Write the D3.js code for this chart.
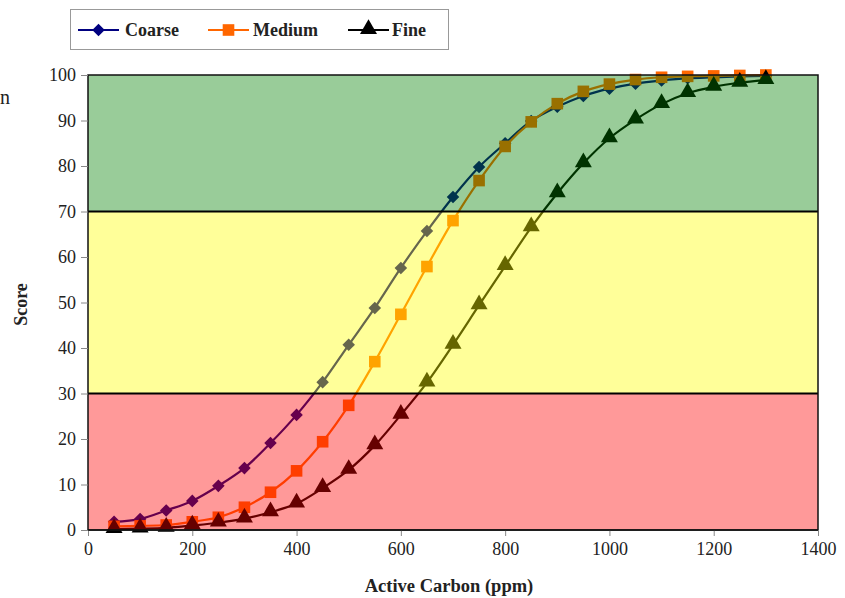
<!DOCTYPE html>
<html><head><meta charset="utf-8">
<script src="https://cdn.jsdelivr.net/npm/d3@7"></script>
<style>body{margin:0;background:#fff}svg{display:block}</style>
</head><body>
<svg id="c" width="845" height="598"></svg>
<script>
const xs = [50,100,150,200,250,300,350,400,450,500,550,600,650,700,750,800,850,900,950,1000,1050,1100,1150,1200,1250,1300];
const coarse = [1.8,2.4,4.3,6.4,9.7,13.6,19.1,25.3,32.5,40.7,48.8,57.6,65.7,73.2,79.8,85.0,89.9,93.0,95.4,97.0,98.1,98.8,99.3,99.5,99.7,99.8];
const medium = [0.8,0.9,1.1,1.8,2.8,5.0,8.3,13.0,19.4,27.4,37.0,47.4,57.9,68.0,76.8,84.3,89.7,93.7,96.4,98.0,99.0,99.5,99.7,99.8,99.9,100];
const fine = [0.2,0.3,0.5,1.0,1.6,2.5,3.9,5.8,9.2,13.2,18.6,25.3,32.4,40.7,49.4,58.0,66.5,74.0,80.6,86.1,90.2,93.6,96.0,97.4,98.3,98.9];
const xTicks = [0,200,400,600,800,1000,1200,1400];
const yTicks = [0,10,20,30,40,50,60,70,80,90,100];
const bands = [{lo:0,hi:30,color:"#ff0000"},{lo:30,hi:70,color:"#ffff00"},{lo:70,hi:100,color:"#008000"}];
const seriesNames = ["Coarse","Medium","Fine"];
const seriesColors = ["#000080","#ff6600","#000000"];
const seriesShapes = [d3.symbolDiamond2, d3.symbolSquare, d3.symbolTriangle];

const svg = d3.select("#c");
const L=88,R=818,T=75,B=530;
const x = d3.scaleLinear().domain([0,1400]).range([L,R]);
const y = d3.scaleLinear().domain([0,100]).range([B,T]);
const font = "'Liberation Serif','Times New Roman',serif";

svg.append("rect").attr("x",L).attr("y",T).attr("width",R-L).attr("height",B-T).attr("fill","#fff");

const data = [coarse,medium,fine];
const sizes = [100,135,125];
const line = d3.line().x((d,i)=>x(xs[i])).y(d=>y(d)).curve(d3.curveCatmullRom.alpha(0.5));
data.forEach((vals,k)=>{
  svg.append("path").attr("d",line(vals)).attr("fill","none").attr("stroke",seriesColors[k]).attr("stroke-width",2.2);
});
data.forEach((vals,k)=>{
  const sym = d3.symbol().type(seriesShapes[k]).size(sizes[k]);
  svg.append("g").selectAll("path").data(vals).join("path")
    .attr("transform",(d,i)=>`translate(${x(xs[i])},${y(d)+(k===2?-1:0)})`)
    .attr("d",sym()).attr("fill",seriesColors[k]);
});

// translucent bands over the series
svg.append("g").selectAll("rect").data(bands).join("rect")
  .attr("x",L).attr("width",R-L)
  .attr("y",d=>y(d.hi)).attr("height",d=>y(d.lo)-y(d.hi))
  .attr("fill",d=>d.color).attr("fill-opacity",0.4);

// band boundaries
[30,70].forEach(v=>{
  svg.append("line").attr("x1",L).attr("x2",R).attr("y1",y(v)).attr("y2",y(v)).attr("stroke","#000").attr("stroke-width",2.2);
});
svg.append("rect").attr("x",L).attr("y",T).attr("width",R-L).attr("height",B-T).attr("fill","none").attr("stroke","#111").attr("stroke-width",1.5);

// axes
const ya = svg.append("g").attr("transform",`translate(${L},0)`).call(d3.axisLeft(y).tickValues(yTicks).tickSize(7).tickPadding(5).tickFormat(d3.format("d")));
const xa = svg.append("g").attr("transform",`translate(0,${B})`).call(d3.axisBottom(x).tickValues(xTicks).tickSize(6).tickPadding(6).tickFormat(d3.format("d")));
[ya,xa].forEach(a=>{
  a.select(".domain").remove();
  a.selectAll(".tick line").attr("stroke","#888");
  a.selectAll("text").attr("font-family",font).attr("font-size",18).attr("fill","#222");
});
svg.append("line").attr("x1",L).attr("x2",R).attr("y1",B).attr("y2",B).attr("stroke","#111").attr("stroke-width",1.5);

svg.append("text").attr("transform",`translate(27,${(T+B)/2+2}) rotate(-90)`).attr("text-anchor","middle")
  .attr("font-family",font).attr("font-weight","bold").attr("font-size",18).attr("fill","#222").text("Score");
svg.append("text").attr("x",449).attr("y",592).attr("text-anchor","middle")
  .attr("font-family",font).attr("font-weight","bold").attr("font-size",18.5).attr("fill","#222").text("Active Carbon (ppm)");
svg.append("text").attr("x",0).attr("y",104)
  .attr("font-family",font).attr("font-size",20).attr("fill","#222").text("n");

// legend
svg.append("rect").attr("x",70.5).attr("y",9.5).attr("width",378).attr("height",40).attr("fill","#fff").attr("stroke","#999");
const lx = [78,208,348], tx=[125,253,392];
seriesNames.forEach((n,k)=>{
  const g = svg.append("g");
  g.append("line").attr("x1",lx[k]).attr("x2",lx[k]+41).attr("y1",30).attr("y2",30).attr("stroke",seriesColors[k]).attr("stroke-width",2.2);
  g.append("path").attr("transform",`translate(${lx[k]+20.5},${k===2?29:30})`).attr("d",d3.symbol().type(seriesShapes[k]).size(sizes[k])()).attr("fill",seriesColors[k]);
  g.append("text").attr("x",tx[k]).attr("y",36).attr("font-family",font).attr("font-weight","bold").attr("font-size",18).attr("fill","#222").text(n);
});
</script>
</body></html>
